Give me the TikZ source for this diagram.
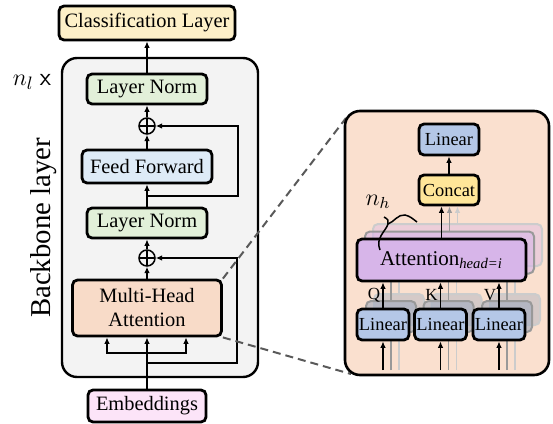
\documentclass[tikz,border=0pt]{standalone}
\usepackage{fontspec}
\setmainfont{Liberation Serif}
\usetikzlibrary{arrows.meta}

\definecolor{clsyellow}{HTML}{FDF0C8}
\definecolor{lngreen}{HTML}{E2F0D9}
\definecolor{ffblue}{HTML}{DEEBF7}
\definecolor{mhapeach}{HTML}{F8DBC8}
\definecolor{embpink}{HTML}{FCE4F8}
\definecolor{panelpeach}{HTML}{FAE0CF}
\definecolor{bbgray}{HTML}{F3F3F3}
\definecolor{linblue}{HTML}{B4C7E7}
\definecolor{concatyellow}{HTML}{FFE699}
\definecolor{attpurple}{HTML}{D7B5E9}

\begin{document}
\begin{tikzpicture}[x=0.5pt,y=-0.5pt,
box/.style={draw,line width=1.4pt,rounded corners=2.5pt,inner sep=1pt,align=center,font=\fontsize{10.2}{12}\selectfont},
conn/.style={line width=0.75pt,-{Latex[length=3.2pt,width=2.8pt]}},
addop/.style={circle,draw,line width=0.75pt,minimum size=8pt,inner sep=0pt,
  path picture={\draw[line width=0.75pt] (path picture bounding box.north) -- (path picture bounding box.south)
  (path picture bounding box.west) -- (path picture bounding box.east);}},
zoomline/.style={line width=1pt,gray!70!black,dash pattern=on 4pt off 2.5pt},
ghostone/.style={draw=gray!80,line width=1pt,rounded corners=2.5pt,fill opacity=0.6},
ghosttwo/.style={draw=gray!40,line width=1pt,rounded corners=2.5pt,fill opacity=0.4},
ghostconnone/.style={conn,gray!80},
ghostconntwo/.style={conn,gray!40},
smallbox/.style={box,font=\fontsize{9.2}{10}\selectfont},
qkv/.style={font=\fontsize{8.5}{10}\selectfont,inner sep=1pt}]

\useasboundingbox (0,0) rectangle (553,424);

% backbone layer
\draw[line width=1.2pt,fill=bbgray,rounded corners=7.5pt] (62,58) rectangle (258,377);

\node[box,fill=clsyellow,minimum width=88pt,minimum height=17pt] (cls) at (147,23) {Classification Layer};
\node[box,fill=lngreen,minimum width=60pt,minimum height=15pt] (ln1) at (147,89) {Layer Norm};
\node[addop] (add1) at (147,126) {};
\node[box,fill=ffblue,minimum width=65pt,minimum height=16.5pt] (ff) at (147,166.5) {Feed Forward};
\node[box,fill=lngreen,minimum width=60pt,minimum height=15pt] (ln2) at (147,223) {Layer Norm};
\node[addop] (add2) at (147,258) {};
\node[box,fill=mhapeach,minimum width=74.5pt,minimum height=28pt] (mha) at (147,308) {Multi-Head\\Attention};
\node[box,fill=embpink,minimum width=59pt,minimum height=16pt] (emb) at (147,406) {Embeddings};

\draw[conn] (emb) -- (mha);
\coordinate (fork) at (147,353);
\draw[conn] (fork) -| ([xshift=-20pt]mha.south);
\draw[conn] (fork) -| ([xshift=19.5pt]mha.south);
\coordinate (res2) at (147,363);
\draw[conn] (res2) -- ++(90,0) |- (add2);
\draw[conn] (mha) -- (add2);
\draw[conn] (add2) -- (ln2);
\draw[conn] (ln2) -- (ff);
\coordinate (res1) at (147,196);
\draw[conn] (res1) -- ++(91,0) |- (add1);
\draw[conn] (ff) -- (add1);
\draw[conn] (add1) -- (ln1);
\draw[conn] (ln1) -- (cls);

\node[font=\fontsize{12.5}{14}\selectfont] (nl) at (32,82) {$n_l$ {\sffamily x}};
\node[rotate=90,font=\fontsize{14.4}{16}\selectfont] (bblabel) at (44,228) {Backbone layer};

% zoom into multi-head attention
\coordinate (pnw) at (346,118);
\coordinate (psw) at (351,374);
\draw[zoomline] (mha.north east) -- (pnw);
\draw[zoomline] (mha.south east) -- (psw);

\draw[line width=1.3pt,fill=panelpeach,rounded corners=7.5pt] (345,111) rectangle (549,375);

\node[smallbox,fill=linblue,minimum width=30pt,minimum height=15.5pt] (lintop) at (449,139.5) {Linear};
\node[smallbox,fill=concatyellow,minimum width=30pt,minimum height=15pt] (concat) at (449,190) {Concat};
\draw[conn] (concat) -- (lintop);

% heads
\node[ghosttwo,fill=attpurple,minimum width=84.5pt,minimum height=21pt] (att2) at (457.5,245) {};
\node[ghostone,fill=attpurple,minimum width=84.5pt,minimum height=21pt] (att1) at (449.5,252.5) {};
\draw[ghostconntwo] (att2.north) -- (att2.north |- concat.south);
\draw[ghostconnone] (att1.north) -- (att1.north |- concat.south);

\coordinate (inbase) at (0,370);
\foreach \n/\xx in {q/383,k/440.5,v/499} {
  \node[ghosttwo,fill=linblue!60!gray,minimum width=25pt,minimum height=15.5pt] (lin\n2) at (\xx+16,309.5) {};
  \node[ghostone,fill=linblue!60!gray,minimum width=25pt,minimum height=15.5pt] (lin\n1) at (\xx+8,316.5) {};
  \draw[ghostconntwo] (inbase -| lin\n2.south) -- (lin\n2.south);
  \draw[ghostconnone] (inbase -| lin\n1.south) -- (lin\n1.south);
  \draw[ghostconntwo] (lin\n2.north) -- (lin\n2.north |- att2.south);
  \draw[ghostconnone] (lin\n1.north) -- (lin\n1.north |- att1.south);
}

\node[box,fill=attpurple,minimum width=84.5pt,minimum height=21pt,font=\fontsize{10.5}{12}\selectfont] (att) at (441.5,260) {Attention\textsubscript{\textit{head=i}}};
\draw[conn] (att.north) -- (att.north |- concat.south);

\foreach \n/\xx/\lab in {q/383/Q,k/440.5/K,v/499/V} {
  \node[smallbox,fill=linblue,minimum width=25pt,minimum height=15.5pt] (lin\n) at (\xx,324.5) {Linear};
  \draw[conn] (inbase -| lin\n.south) -- (lin\n.south);
  \draw[conn] (lin\n.north) -- node[left,qkv] {\lab} (lin\n.north |- att.south);
}

\node[font=\fontsize{12}{14}\selectfont] (nh) at (378,202) {$n_h$};
\draw[line width=0.75pt] (384,217) .. controls (388,219) and (389,221) .. (388,224)
  .. controls (386,231) and (375,238) .. (380,250);
\draw[line width=0.75pt] (388,224) .. controls (394,222) and (398,214) .. (405,215)
  .. controls (410,216) and (413,219) .. (417,222);

\end{tikzpicture}
\end{document}
